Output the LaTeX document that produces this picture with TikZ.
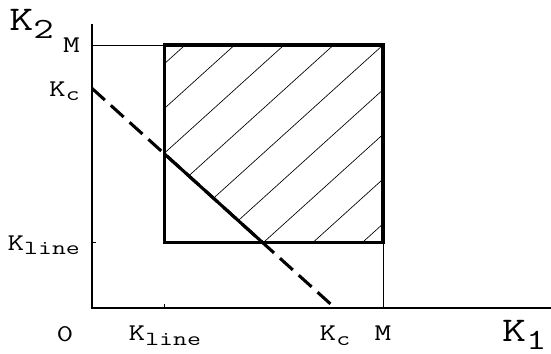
\documentclass[tikz,border=0pt]{standalone}
\usetikzlibrary{positioning}

\newcommand\lowsub[3]{\raisebox{-#2}{\fontsize{#1}{#1}\selectfont #3}}
\newcommand\wide[1]{\scalebox{1.35}[1]{#1}}

\begin{document}
\begin{tikzpicture}[x=218.25pt, y=197.25pt,
  lbl/.style={font=\fontsize{18}{18}\selectfont\ttfamily, inner sep=0pt},
  axlbl/.style={font=\fontsize{26}{26}\selectfont\ttfamily, inner sep=0pt},
  axisline/.style={line width=0.8pt},
  thinline/.style={line width=0.6pt},
  hatch/.style={line width=0.5pt},
  bold/.style={line width=2.3pt},
  cut/.style={bold, dash pattern=on 13pt off 6pt}
]
\useasboundingbox (-0.3162,-0.1749) rectangle (1.5773,1.1711);
\def\kl{0.25}
\def\kc{0.835}

% axes
\coordinate (O) at (0,0);
\coordinate (xend) at (1.577,0);
\coordinate (yend) at (0,1.08);
\draw[axisline] (xend) -- (O) -- (yend);
\draw[axisline] (0,\kl) -- ++(3pt,0);
\draw[axisline] (\kl,0) -- ++(0,3pt);

% guide lines to M
\coordinate (mleft) at (0,1);
\coordinate (mbot) at (1,0);
\coordinate (A) at (\kl,\kl);
\coordinate (B) at (1,\kl);
\coordinate (C) at (1,1);
\coordinate (D) at (\kl,1);
\draw[thinline] (mleft) -- (D);
\draw[thinline] (mbot) -- (B);

% hatching
\begin{scope}
  \clip (\kl,\kc-\kl) -- (D) -- (C) -- (B) -- (\kc-\kl,\kl) -- cycle;
  \foreach \d in {0.68,0.51,0.34,0.17,0,-0.17,-0.34,-0.51,-0.68}
    \draw[hatch] (0,\d) -- (1.2,1.2+\d);
\end{scope}

% box and line K1+K2=Kc
\draw[bold] (A) -- (B) -- (C) -- (D) -- cycle;
\coordinate (cy) at (0,\kc);
\coordinate (cx) at (\kc,0);
\coordinate (in1) at (\kl,\kc-\kl);
\coordinate (in2) at (\kc-\kl,\kl);
\draw[cut] (cy) -- (cx);
\draw[bold] (in1) -- (in2);

% labels
\node[axlbl, anchor=base west] (k2) at (-0.285,1.057) {\wide{K\lowsub{22}{6pt}{2}}};
\node[axlbl, anchor=base west] (k1) at (1.408,-0.128) {\wide{K\lowsub{22}{5.5pt}{1}}};
\node[lbl, anchor=base east] (ym) at (-0.041,0.970) {\wide{M}};
\node[lbl, anchor=base east] (ykc) at (-0.041,\kc-0.030) {\wide{K\lowsub{15}{3.5pt}{c}}};
\node[lbl, anchor=base east] (ykl) at (-0.041,\kl-0.030) {\wide{K\lowsub{15}{3.5pt}{line}}};
\node[lbl, anchor=base] (zero) at (-0.093,-0.129) {\wide{0}};
\node[lbl, anchor=base] (xkl) at (\kl,-0.124) {\wide{K\lowsub{15}{3.5pt}{line}}};
\node[lbl, anchor=base] (xkc) at (\kc,-0.124) {\wide{K\lowsub{15}{3.5pt}{c}}};
\node[lbl, anchor=base] (xm) at (1,-0.124) {\wide{M}};
\end{tikzpicture}
\end{document}
